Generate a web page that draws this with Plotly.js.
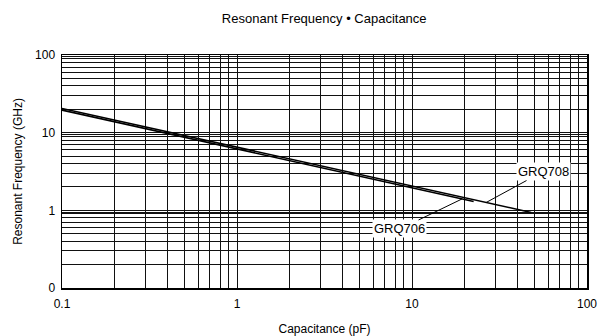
<!DOCTYPE html>
<html>
<head>
<meta charset="utf-8">
<script src="https://cdn.plot.ly/plotly-3.0.1.min.js"></script>
<style>html,body{margin:0;padding:0;background:#fff;}#chart{width:599px;height:336px;}</style>
</head>
<body>
<div id="chart"></div>
<script>
// Capacitance (pF) and resonant frequency (GHz)
const capGRQ708 = [0.1, 0.2, 0.5, 1, 2, 5, 10, 20, 48];
const freqGRQ708 = [20.5, 14.5, 9.2, 6.5, 4.6, 2.9, 2.05, 1.45, 0.94];
const capGRQ706 = [0.1, 0.2, 0.5, 1, 2, 5, 10, 20, 22.5];
const freqGRQ706 = [19.5, 13.8, 8.7, 6.2, 4.35, 2.75, 1.95, 1.38, 1.30];

// Grid / tick values
const xMajor = [0.1, 1, 10, 100];
const xMajorText = ["0.1", "1", "10", "100"];
const yMajor = [0.1, 1, 10, 100];
const yMajorText = ["0", "1", "10", "100"];
const minorSteps = [2, 3, 4, 5, 6, 7, 8, 9];
const yExtraSteps = [9.5];

function buildTicks(major, majorText, steps, decades) {
  const vals = [], text = [];
  major.forEach((v, i) => { vals.push(v); text.push(majorText[i]); });
  decades.forEach(d => steps.forEach(s => { vals.push(d * s); text.push(""); }));
  return {vals, text};
}
const xt = buildTicks(xMajor, xMajorText, minorSteps, [0.1, 1, 10]);
const yt = buildTicks(yMajor, yMajorText, minorSteps.concat(yExtraSteps), [0.1, 1, 10]);

const traces = [
  {x: capGRQ706, y: freqGRQ706, mode: 'lines', name: 'GRQ706',
   line: {color: '#000', width: 1.6}},
  {x: capGRQ708, y: freqGRQ708, mode: 'lines', name: 'GRQ708',
   line: {color: '#000', width: 1.6}}
];

const fontFam = 'Liberation Sans, Arial, sans-serif';
const layout = {
  width: 599, height: 336,
  margin: {l: 62, r: 12, t: 55, b: 48},
  paper_bgcolor: '#fff', plot_bgcolor: '#fff',
  showlegend: false,
  font: {family: fontFam, size: 12, color: '#000'},
  title: {text: 'Resonant Frequency • Capacitance', font: {size: 13, color: '#000'},
          x: 0.5413, xanchor: 'center', y: 0.945, yanchor: 'middle'},
  xaxis: {type: 'log', range: [-1, 2], tickmode: 'array', tickvals: xt.vals, ticktext: xt.text,
          showgrid: true, gridcolor: '#111', gridwidth: 1, zeroline: false,
          showline: true, mirror: true, linecolor: '#000', linewidth: 1.5,
          ticks: '', tickfont: {size: 12}, fixedrange: true, ticklabelstandoff: 4,
          title: {text: 'Capacitance (pF)', font: {size: 12}, standoff: 14}},
  yaxis: {type: 'log', range: [-1, 2], tickmode: 'array', tickvals: yt.vals, ticktext: yt.text,
          showgrid: true, gridcolor: '#111', gridwidth: 1, zeroline: false,
          showline: true, mirror: true, linecolor: '#000', linewidth: 1.5,
          ticks: '', tickfont: {size: 12}, fixedrange: true, ticklabelstandoff: 3,
          title: {text: 'Resonant Frequency (GHz)', font: {size: 12}, standoff: 10}},
  annotations: [
    {x: Math.log10(26.5), y: Math.log10(1.26), xref: 'x', yref: 'y', text: 'GRQ708',
     showarrow: true, arrowhead: 0, arrowwidth: 1, arrowcolor: '#000', ax: 57, ay: -31,
     bgcolor: '#fff', font: {size: 13, color: '#000'}, borderpad: 1},
    {x: Math.log10(19.3), y: Math.log10(1.40), xref: 'x', yref: 'y', text: 'GRQ706',
     showarrow: true, arrowhead: 0, arrowwidth: 1, arrowcolor: '#000', ax: -62, ay: 30,
     bgcolor: '#fff', font: {size: 13, color: '#000'}, borderpad: 1}
  ]
};
Plotly.newPlot('chart', traces, layout, {staticPlot: true, displayModeBar: false});
</script>
</body>
</html>
